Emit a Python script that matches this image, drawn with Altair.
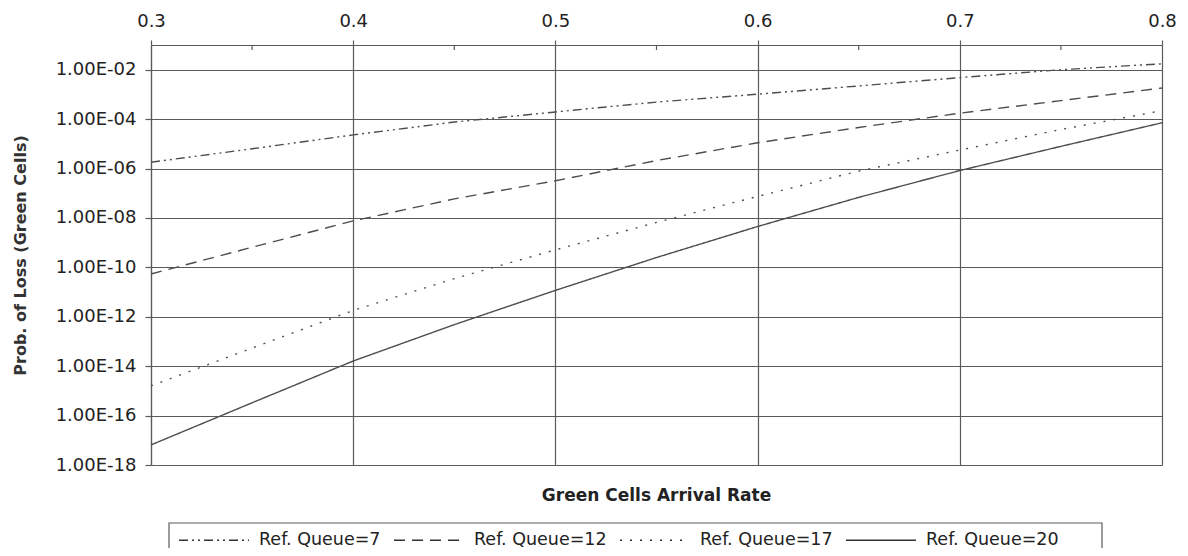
import altair as alt
import pandas as pd

# Green cells arrival rate (x) and loss probabilities
rate = [0.30, 0.35, 0.40, 0.45, 0.50, 0.55, 0.60, 0.65, 0.70, 0.75, 0.80]
series_names = ["Ref. Queue=7", "Ref. Queue=12", "Ref. Queue=17", "Ref. Queue=20"]
q7 = [1.8e-06, 6.3e-06, 2.3e-05, 7.6e-05, 1.95e-04, 4.9e-04, 1.02e-03, 2.2e-03, 4.8e-03, 1.0e-02, 1.74e-02]
q12 = [5.4e-11, 6.5e-10, 7.6e-09, 5.9e-08, 3.2e-07, 2.1e-06, 1.1e-05, 4.6e-05, 1.74e-04, 5.6e-04, 1.82e-03]
q17 = [1.6e-15, 5.4e-14, 1.8e-12, 3.5e-11, 5.1e-10, 6.6e-09, 7.4e-08, 7.9e-07, 5.6e-06, 3.8e-05, 2.2e-04]
q20 = [6.5e-18, 3.3e-16, 1.62e-14, 4.8e-13, 1.17e-11, 2.5e-10, 4.5e-09, 6.8e-08, 8.3e-07, 7.9e-06, 7.1e-05]

x_ticks = [0.3, 0.4, 0.5, 0.6, 0.7, 0.8]
x_minor = [0.35, 0.45, 0.55, 0.65, 0.75]
y_ticks = [1e-18, 1e-16, 1e-14, 1e-12, 1e-10, 1e-08, 1e-06, 1e-04, 1e-02]

rows = []
for name, vals in zip(series_names, [q7, q12, q17, q20]):
    for x, v in zip(rate, vals):
        rows.append({"x": x, "p": v, "series": name})
df = pd.DataFrame(rows)
minor_df = pd.DataFrame({"x": x_minor})

FONT = "DejaVu Sans"
INK = "#222222"
LINE = "#4d4d4d"
GRID = "#5a5a5a"

x_enc = alt.X(
    "x:Q",
    scale=alt.Scale(domain=[0.3, 0.8], nice=False, zero=False),
    axis=alt.Axis(
        orient="top",
        values=x_ticks,
        format=".1f",
        grid=True,
        gridColor=GRID,
        gridWidth=1.2,
        domain=True,
        domainColor=GRID,
        domainWidth=1.2,
        tickColor=GRID,
        tickSize=5,
        tickWidth=1.2,
        labelFont=FONT,
        labelFontSize=18,
        labelColor=INK,
        labelPadding=10,
        labelFlush=False,
        title="Green Cells Arrival Rate",
        titleFont=FONT,
        titleFontSize=17,
        titleFontWeight="bold",
        titleColor=INK,
        titleX=505,
        titleY=450,
        titleBaseline="middle",
    ),
)

lines = alt.Chart(df).mark_line(strokeWidth=1.4, color=LINE).encode(
    x=x_enc,
    y=alt.Y(
        "p:Q",
        scale=alt.Scale(type="log", domain=[1e-18, 1e-1], nice=False),
        axis=alt.Axis(
            values=y_ticks,
            labelExpr="'1.00E-' + (abs(round(log(datum.value)/LN10)) < 10 ? '0' : '') + abs(round(log(datum.value)/LN10))",
            grid=True,
            gridColor=GRID,
            gridWidth=1.2,
            domain=True,
            domainColor=GRID,
            domainWidth=1.2,
            tickColor=GRID,
            tickSize=6,
            tickWidth=1.2,
            labelFont=FONT,
            labelFontSize=18,
            labelColor=INK,
            labelPadding=9,
            labelFlush=False,
            title="Prob. of Loss (Green Cells)",
            titleFont=FONT,
            titleFontSize=16,
            titleFontWeight="bold",
            titleColor="#333333",
            titleX=-131,
            titleY=210,
            titleBaseline="middle",
        ),
    ),
    strokeDash=alt.StrokeDash(
        "series:N",
        scale=alt.Scale(
            domain=series_names,
            range=[[9, 4, 2, 4, 2, 4], [11, 7], [2, 8], [1, 0]],
        ),
        legend=alt.Legend(
            title=None,
            orient="none",
            legendX=27,
            legendY=459,
            direction="horizontal",
            columns=4,
            symbolType="stroke",
            symbolSize=4900,
            symbolStrokeWidth=1.5,
            symbolStrokeColor="#333333",
            labelFont=FONT,
            labelFontSize=17.5,
            labelColor=INK,
            labelOffset=9,
            columnPadding=10,
            padding=0,
            labelLimit=300,
        ),
    ),
    detail="series:N",
)

minor = alt.Chart(minor_df).mark_rule(color=GRID, strokeWidth=1.2).encode(
    x=x_enc,
    y=alt.value(0),
    y2=alt.value(5),
)

legend_box = alt.Chart(pd.DataFrame({"k": [0]})).mark_rect(
    fill=None, filled=False, stroke=GRID, strokeWidth=1.2
).encode(
    x=alt.value(18),
    x2=alt.value(951),
    y=alt.value(478),
    y2=alt.value(510),
)

chart = alt.layer(lines, minor, legend_box).properties(
    width=1011,
    height=420,
    autosize=alt.AutoSizeParams(type="none"),
    padding={"left": 143, "top": 37, "right": 18, "bottom": 83},
    background="white",
).configure_view(stroke=None)

chart.save("out.html", embed_options={"renderer": "svg", "actions": False})
